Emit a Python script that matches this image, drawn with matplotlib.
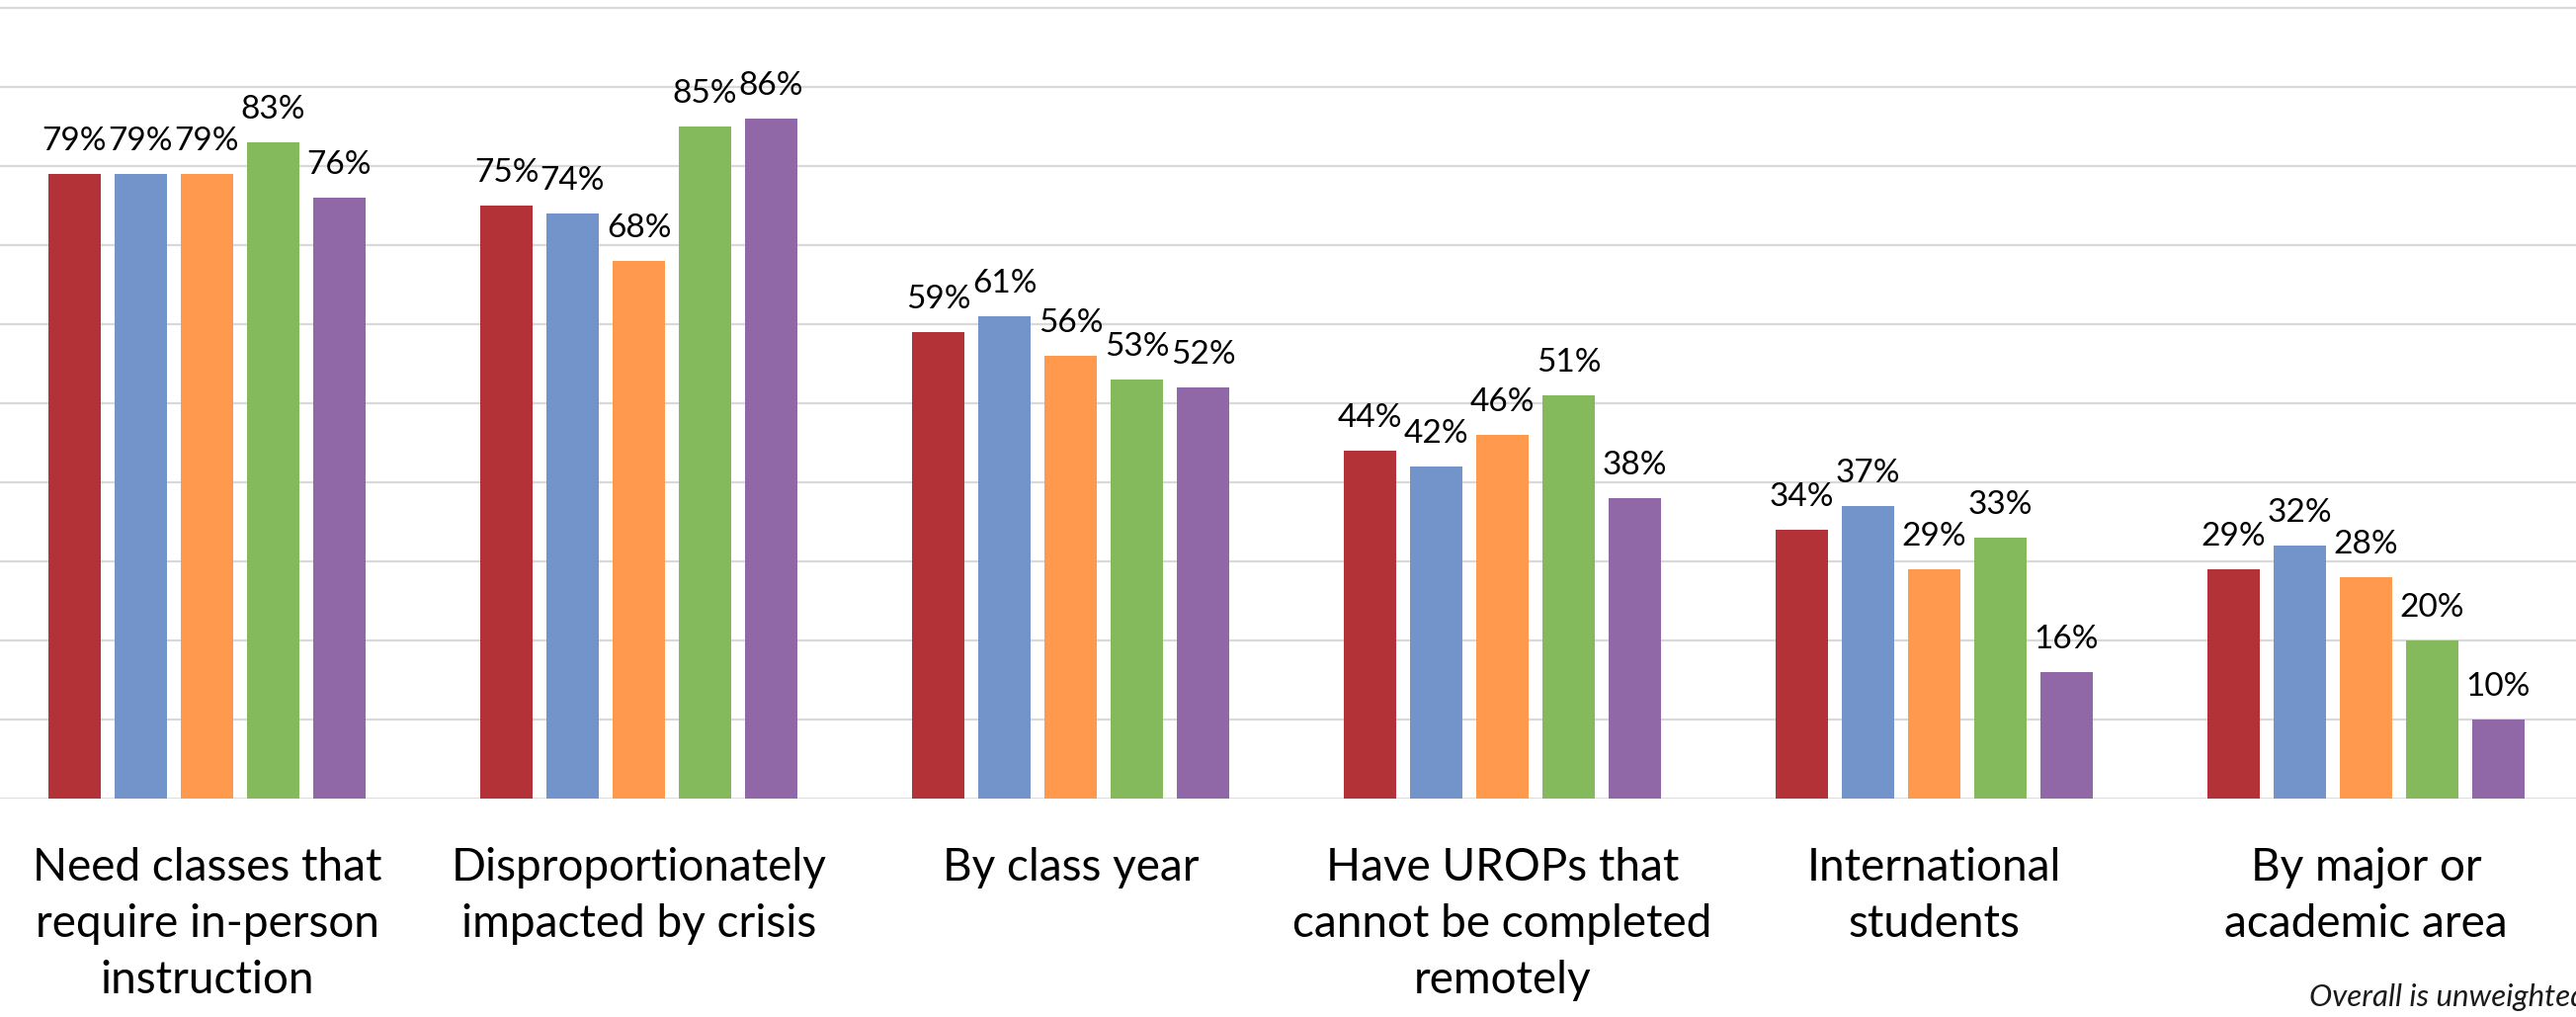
import matplotlib
matplotlib.use("Agg")
import matplotlib.pyplot as plt
import numpy as np

categories = [
    "Need classes that\nrequire in-person\ninstruction",
    "Disproportionately\nimpacted by crisis",
    "By class year",
    "Have UROPs that\ncannot be completed\nremotely",
    "International\nstudents",
    "By major or\nacademic area",
]
series_a = [79, 75, 59, 44, 34, 29]
series_b = [79, 74, 61, 42, 37, 32]
series_c = [79, 68, 56, 46, 29, 28]
series_d = [83, 85, 53, 51, 33, 20]
series_e = [76, 86, 52, 38, 16, 10]
series = [series_a, series_b, series_c, series_d, series_e]
colors = ["#B33237", "#7394CA", "#FF994D", "#85BA5C", "#9068A7"]
note = "Overall is unweighted"

plt.rcParams['font.family'] = ['Lato', 'DejaVu Sans']

W, H = 2607, 1029
fig = plt.figure(figsize=(W / 100, H / 100), dpi=100)
base_px = 808
ax = fig.add_axes([0, (H - base_px) / H, 1, base_px / H])

pitch = 437.0
c0 = 209.5
ax.set_xlim((0 - c0) / pitch, (W - c0) / pitch)
ax.set_ylim(0, 101)

bw = 53 / pitch
step = 67 / pitch
x = np.arange(len(categories))
for j, (vals, col) in enumerate(zip(series, colors)):
    xs = x + (j - 2) * step
    ax.bar(xs, vals, width=bw, color=col, zorder=3)
    for xi, v in zip(xs, vals):
        ax.annotate(f"{v}%", xy=(xi, v), xytext=(0, 17), textcoords="offset points",
                    ha="center", va="baseline", fontsize=24, color="black", zorder=4)

for gy in range(10, 101, 10):
    ax.axhline(gy, color="#D9D9D9", linewidth=1.6, zorder=1)
ax.axhline(0, color="#D9D9D9", linewidth=2.0, zorder=2)

for s in ax.spines.values():
    s.set_visible(False)
ax.set_xticks([])
ax.set_yticks([])

for xi, cat in zip(x, categories):
    ax.annotate(cat, xy=(xi, 0), xycoords=("data", "data"), xytext=(0, -35),
                textcoords="offset points", ha="center", va="top", fontsize=33,
                linespacing=1.44, color="black")

fig.text(2337 / W, 1 - 1009 / H, note, ha="left", va="center", fontsize=22.5,
         fontstyle="italic", color="#1a1a1a")

fig.savefig("out.png", dpi=100)
